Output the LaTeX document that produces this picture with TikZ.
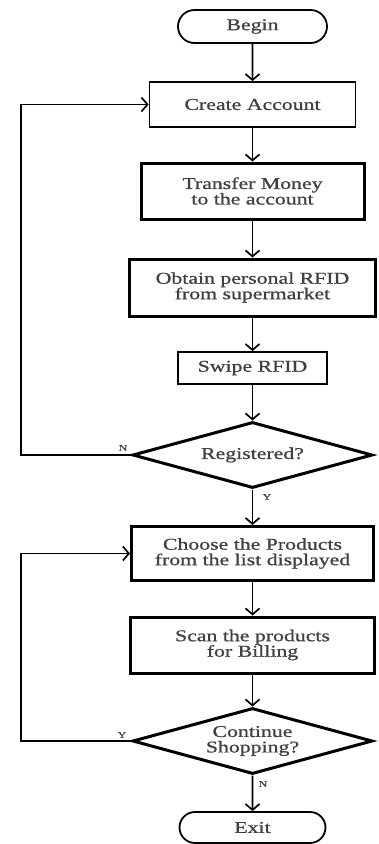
\documentclass[tikz,border=0pt]{standalone}
\usepackage{graphicx}
\usepackage{fontspec}
\setmainfont{Liberation Serif}
\newfontfamily\heavy[UprightFeatures={FakeBold=0.7}]{Liberation Serif}
\usetikzlibrary{arrows.meta,shapes.geometric,shapes.misc}
\definecolor{txt}{gray}{0.25}
\newcommand\sx[1]{\scalebox{1.32}[1]{#1}}
\begin{document}
\begin{tikzpicture}[x=1pt,y=-1pt,
  box/.style={draw, line width=1.8pt, rectangle, inner sep=0pt, align=center,
    font=\heavy\fontsize{16.5}{15.5}\selectfont, text=txt},
  bbox/.style={box, line width=3pt},
  term/.style={box, rounded rectangle},
  dec/.style={diamond, aspect=3.6, draw, line width=3pt, inner sep=0pt, align=center,
    font=\heavy\fontsize{16.5}{15.5}\selectfont, text=txt},
  lab/.style={font=\heavy\fontsize{9}{9}\selectfont, text=txt, inner sep=0pt},
  arr/.style={line width=1.7pt, -{Straight Barb[length=6pt,width=14pt]}}]
\path[use as bounding box, fill=white] (0,0) rectangle (379,844);
\node[term, minimum width=149pt, minimum height=33pt] (begin) at (252.5,26.5) {\sx{Begin}};
\node[box, minimum width=206pt, minimum height=45pt] (create) at (252.5,104.5) {\sx{Create Account}};
\node[bbox, minimum width=223pt, minimum height=56pt] (transfer) at (252.5,191) {\sx{Transfer Money}\\\sx{to the account}};
\node[bbox, minimum width=246pt, minimum height=57pt] (obtain) at (252.5,287.5) {\sx{Obtain personal RFID}\\\sx{from supermarket}};
\node[box, minimum width=149pt, minimum height=32pt] (swipe) at (252.5,368) {\sx{Swipe RFID}};
\node[dec, minimum width=240pt, minimum height=66pt] (reg) at (252.5,455) {\sx{Registered?}};
\node[bbox, minimum width=242pt, minimum height=54pt] (choose) at (252.5,553.5) {\sx{Choose the Products}\\\sx{from the list displayed}};
\node[bbox, minimum width=244pt, minimum height=56pt] (scan) at (252.5,645) {\sx{Scan the products}\\\sx{for Billing}};
\node[dec, minimum width=240pt, minimum height=66pt] (cont) at (252.5,741) {\sx{Continue}\\\sx{Shopping?}};
\node[term, minimum width=146pt, minimum height=31pt] (exit) at (252.5,827.5) {\sx{Exit}};
\coordinate (lx) at (21,0);
\draw[arr] (begin) -- (create);
\draw[arr] (create) -- (transfer);
\draw[arr] (transfer) -- (obtain);
\draw[arr] (obtain) -- (swipe);
\draw[arr] (swipe) -- (reg);
\draw[arr] (reg) -- (choose);
\draw[arr] (choose) -- (scan);
\draw[arr] (scan) -- (cont);
\draw[arr] (cont) -- (exit);
\draw[arr] (reg.west) -- (reg.west -| lx) |- (create.west);
\draw[arr] (cont.west) -- (cont.west -| lx) |- (choose.west);
\node[lab] (n1) at (123,448) {\sx{N}};
\node[lab] (y1) at (267,497) {\sx{Y}};
\node[lab] (y2) at (122,735) {\sx{Y}};
\node[lab] (n2) at (263,784) {\sx{N}};
\end{tikzpicture}
\end{document}
